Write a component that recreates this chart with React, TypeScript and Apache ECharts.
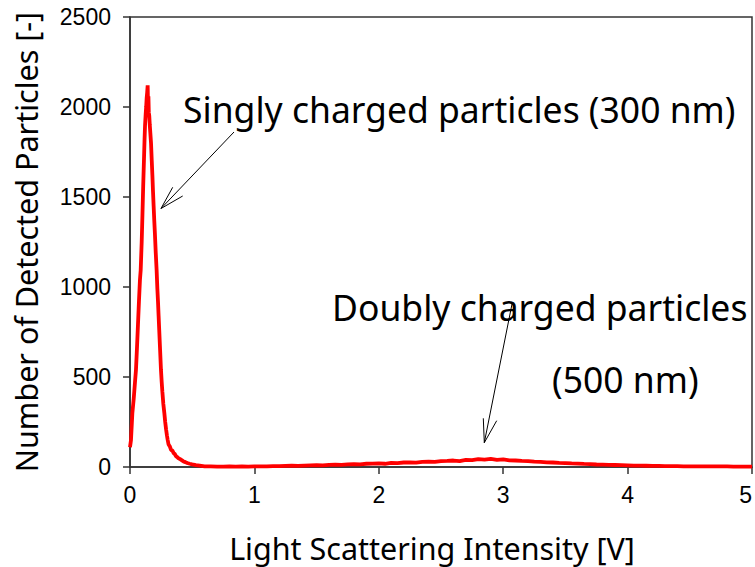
import React, { useEffect, useRef } from "react";
import * as echarts from "echarts";

// Light scattering intensity [V] vs number of detected particles
const singlyPeak: number[][] = [
  [0, 110], [0.008, 150], [0.019, 300], [0.03, 380], [0.04, 470], [0.048, 540],
  [0.056, 660], [0.064, 790], [0.072, 920], [0.08, 1040], [0.086, 1094], [0.094, 1250],
  [0.1, 1400], [0.106, 1560], [0.112, 1700], [0.117, 1820], [0.121, 1900], [0.126, 1960],
  [0.13, 2000], [0.134, 2050], [0.138, 2080], [0.142, 2120], [0.145, 2000], [0.148, 2060],
  [0.151, 1970], [0.155, 1950], [0.159, 1900], [0.163, 1860], [0.169, 1800], [0.175, 1700],
  [0.18, 1620], [0.185, 1530], [0.19, 1450], [0.195, 1370], [0.2, 1300], [0.207, 1190],
  [0.214, 1094], [0.22, 990], [0.225, 920], [0.23, 840], [0.235, 760], [0.242, 650],
  [0.249, 539], [0.255, 470], [0.26, 420], [0.268, 350], [0.276, 300], [0.283, 250],
  [0.29, 210], [0.297, 175], [0.303, 150], [0.31, 125], [0.32, 115], [0.33, 95],
  [0.34, 92], [0.35, 78], [0.36, 72], [0.37, 60], [0.38, 55], [0.39, 48],
  [0.4, 45], [0.415, 38], [0.43, 31], [0.445, 27], [0.46, 22], [0.48, 18],
  [0.5, 15], [0.53, 11], [0.56, 8], [0.6, 4], [0.65, 3], [0.7, 2],
  [0.75, 2], [0.8, 3], [0.85, 2], [0.9, 3], [0.95, 2],
];

const doublyHump: number[][] = [
  [1.0, 3], [1.05, 4], [1.1, 3], [1.15, 5], [1.2, 5], [1.25, 6], [1.3, 7], [1.35, 6],
  [1.4, 8], [1.45, 9], [1.5, 10], [1.55, 9], [1.6, 12], [1.65, 13], [1.7, 12], [1.75, 15],
  [1.8, 16], [1.85, 15], [1.9, 18], [1.95, 19], [2.0, 20], [2.05, 18], [2.1, 23], [2.15, 22],
  [2.2, 25], [2.25, 26], [2.3, 24], [2.35, 29], [2.4, 30], [2.45, 28], [2.5, 33], [2.55, 34],
  [2.6, 36], [2.65, 33], [2.7, 40], [2.75, 38], [2.8, 44], [2.85, 41], [2.9, 45], [2.95, 40],
  [3.0, 42], [3.05, 37], [3.1, 36], [3.15, 34], [3.2, 33], [3.25, 30], [3.3, 29], [3.35, 26],
  [3.4, 25], [3.45, 23], [3.5, 22], [3.55, 20], [3.6, 19], [3.65, 17], [3.7, 16], [3.75, 14],
  [3.8, 13], [3.85, 12], [3.9, 11], [3.95, 10], [4.0, 9], [4.05, 8], [4.1, 8], [4.15, 7],
  [4.2, 6], [4.25, 6], [4.3, 5], [4.35, 5], [4.4, 5], [4.45, 4], [4.5, 4], [4.55, 4],
  [4.6, 3], [4.65, 3], [4.7, 3], [4.75, 3], [4.8, 3], [4.85, 2], [4.9, 2], [4.95, 2], [5.0, 2],
];

const xTicks = [0, 1, 2, 3, 4, 5];
const yTicks = [0, 500, 1000, 1500, 2000, 2500];

const xAxisName = "Light Scattering Intensity [V]";
const yAxisName = "Number of Detected Particles [-]";
const singlyLabel = "Singly charged particles (300 nm)";
const doublyLabel1 = "Doubly charged particles";
const doublyLabel2 = "(500 nm)";

export default function App() {
  const ref = useRef<HTMLDivElement>(null);
  useEffect(() => {
    if (!ref.current) return;
    const chart = echarts.init(ref.current, null, { renderer: "svg" });
    const axisColor = "#333";
    const annFont = { fontFamily: "Noto Sans", fontSize: 35.5, fill: "#000" };
    const arrowStyle = { stroke: "#000", lineWidth: 1, fill: "none" };
    chart.setOption({
      animation: false,
      backgroundColor: "#fff",
      grid: {
        left: 130, right: 3, top: 17, bottom: 100,
        outerBoundsMode: "none", containLabel: false,
        show: true, borderColor: axisColor, borderWidth: 1.5, backgroundColor: "transparent",
      },
      xAxis: {
        type: "value",
        min: xTicks[0], max: xTicks[xTicks.length - 1], interval: 1,
        name: xAxisName, nameLocation: "middle", nameGap: 65,
        nameTextStyle: { fontFamily: "Noto Sans", fontSize: 30.5, color: "#000", padding: [0, 18, 0, 0] },
        axisLine: { show: true, lineStyle: { color: axisColor, width: 1.5 } },
        axisTick: { show: true, inside: false, length: 7, lineStyle: { color: axisColor, width: 1.5 } },
        axisLabel: {
          fontFamily: "Liberation Sans", fontSize: 23, color: "#000", margin: 16,
          alignMaxLabel: "right",
          formatter: (v: number) => String(v),
        },
        splitLine: { show: false },
      },
      yAxis: {
        type: "value",
        min: yTicks[0], max: yTicks[yTicks.length - 1], interval: 500,
        name: yAxisName, nameLocation: "middle", nameGap: 89, nameRotate: 90,
        nameTextStyle: { fontFamily: "Noto Sans", fontSize: 30.5, color: "#000" },
        axisLine: { show: true, lineStyle: { color: axisColor, width: 1.5 } },
        axisTick: { show: true, inside: false, length: 7, lineStyle: { color: axisColor, width: 1.5 } },
        axisLabel: { fontFamily: "Liberation Sans", fontSize: 23, color: "#000", margin: 19, formatter: (v: number) => String(v) },
        splitLine: { show: false },
      },
      series: [
        {
          type: "line",
          data: [...singlyPeak, ...doublyHump],
          showSymbol: false,
          lineStyle: { color: "#ff0000", width: 3.8 },
          itemStyle: { color: "#ff0000" },
        },
      ],
      graphic: [
        { type: "text", left: 183, top: 91, style: { text: singlyLabel, ...annFont } },
        { type: "text", left: 332, top: 289, style: { text: doublyLabel1, ...annFont } },
        { type: "text", left: 552, top: 361, style: { text: doublyLabel2, ...annFont } },
        { type: "line", shape: { x1: 234, y1: 132, x2: 161, y2: 208.5 }, style: arrowStyle },
        { type: "polyline", shape: { points: [[172.7, 187.3], [161, 208.5], [182.7, 196]] }, style: arrowStyle },
        { type: "line", shape: { x1: 512, y1: 304, x2: 484.3, y2: 442.7 }, style: arrowStyle },
        { type: "polyline", shape: { points: [[483.3, 418.3], [484.3, 442.7], [496.7, 420.7]] }, style: arrowStyle },
      ],
    });
    return () => chart.dispose();
  }, []);
  return (
    <div
      ref={ref}
      style={{ position: "fixed", left: 0, top: 0, width: 755, height: 567 }}
    />
  );
}
